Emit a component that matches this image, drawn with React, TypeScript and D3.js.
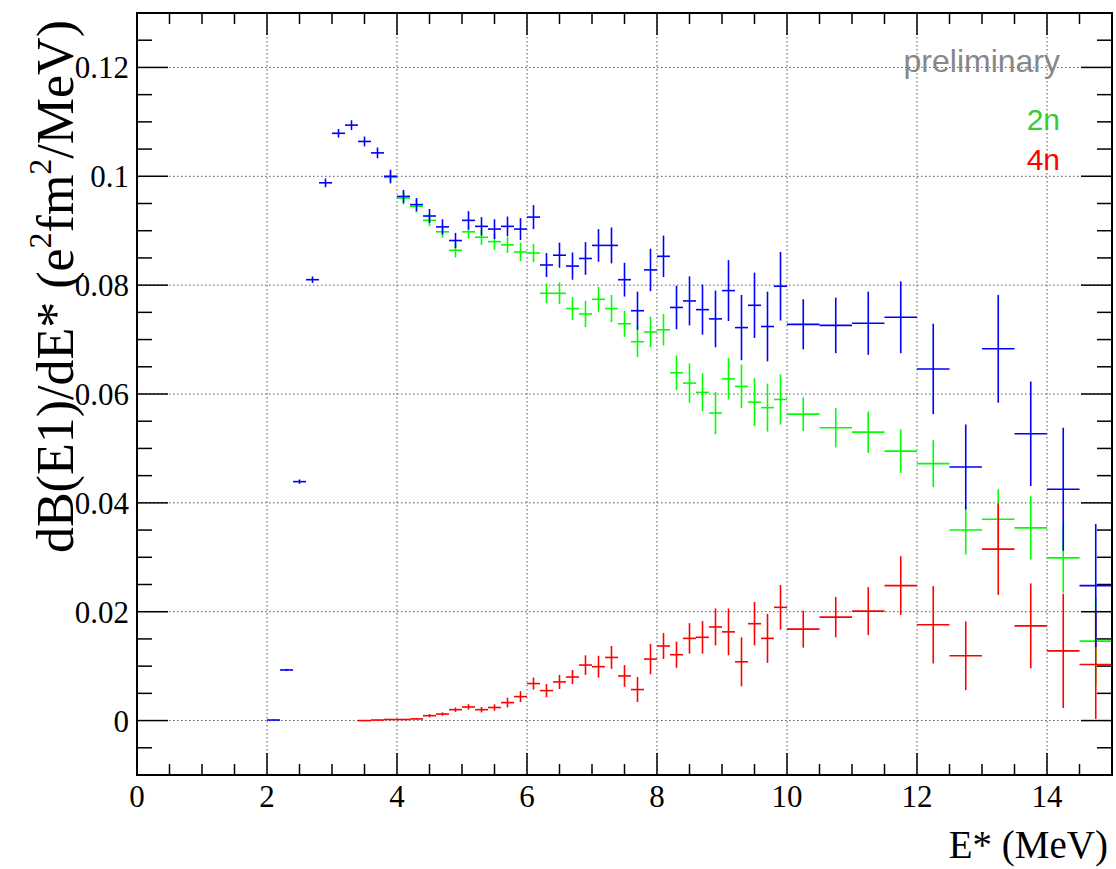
import React from 'react';
import * as d3 from 'd3';

const W = 1116;
const H = 869;
const FRAME = { left: 137, right: 1112, top: 13, bottom: 775 };

// axis definitions
const X_DOMAIN: [number, number] = [0, 15];
const Y_DOMAIN: [number, number] = [-0.01, 0.13];
const xMajorTicks = [0, 2, 4, 6, 8, 10, 12, 14];
const xTickLabels = ['0', '2', '4', '6', '8', '10', '12', '14'];
const yMajorTicks = [0, 0.02, 0.04, 0.06, 0.08, 0.1, 0.12];
const yTickLabels = ['0', '0.02', '0.04', '0.06', '0.08', '0.1', '0.12'];

// total (blue)
const totalE = [2.1, 2.3, 2.5, 2.7, 2.9, 3.1, 3.3, 3.5, 3.7, 3.9, 4.1, 4.3, 4.5, 4.7, 4.9, 5.1, 5.3, 5.5, 5.7, 5.9, 6.1, 6.3, 6.5, 6.7, 6.9, 7.1, 7.3, 7.5, 7.7, 7.9, 8.1, 8.3, 8.5, 8.7, 8.9, 9.1, 9.3, 9.5, 9.7, 9.9, 10.25, 10.75, 11.25, 11.75, 12.25, 12.75, 13.25, 13.75, 14.25, 14.75];
const totalV = [0.0001, 0.0093, 0.0439, 0.081, 0.0988, 0.1079, 0.1094, 0.1064, 0.1043, 0.1, 0.0963, 0.0948, 0.0927, 0.0907, 0.0882, 0.0919, 0.0908, 0.0903, 0.0908, 0.0903, 0.0925, 0.0837, 0.0855, 0.0835, 0.0849, 0.0873, 0.0873, 0.081, 0.0753, 0.0828, 0.0853, 0.0759, 0.0771, 0.0755, 0.0738, 0.079, 0.0722, 0.0763, 0.0724, 0.0798, 0.0728, 0.0726, 0.073, 0.0741, 0.0646, 0.0466, 0.0683, 0.0527, 0.0425, 0.0248];
const totalErr = [0.0001, 0.0002, 0.0004, 0.0006, 0.0008, 0.0008, 0.0009, 0.0009, 0.001, 0.0012, 0.0012, 0.0012, 0.0013, 0.0014, 0.0014, 0.0017, 0.0017, 0.0018, 0.0018, 0.002, 0.0022, 0.0022, 0.0023, 0.0025, 0.003, 0.003, 0.0033, 0.0031, 0.0035, 0.0039, 0.0038, 0.004, 0.0045, 0.0046, 0.0052, 0.0056, 0.006, 0.006, 0.0064, 0.0063, 0.0046, 0.0051, 0.0058, 0.0066, 0.0083, 0.0078, 0.0099, 0.0096, 0.0113, 0.0113];

// 2n (green)
const twoNE = [3.9, 4.1, 4.3, 4.5, 4.7, 4.9, 5.1, 5.3, 5.5, 5.7, 5.9, 6.1, 6.3, 6.5, 6.7, 6.9, 7.1, 7.3, 7.5, 7.7, 7.9, 8.1, 8.3, 8.5, 8.7, 8.9, 9.1, 9.3, 9.5, 9.7, 9.9, 10.25, 10.75, 11.25, 11.75, 12.25, 12.75, 13.25, 13.75, 14.25, 14.75];
const twoNV = [0.0998, 0.096, 0.0945, 0.0919, 0.0898, 0.0864, 0.0898, 0.0888, 0.088, 0.0874, 0.0861, 0.0859, 0.0785, 0.0785, 0.0757, 0.0747, 0.0774, 0.0757, 0.0729, 0.0696, 0.0714, 0.0718, 0.0639, 0.062, 0.0603, 0.0565, 0.0628, 0.0614, 0.0585, 0.0575, 0.059, 0.0563, 0.0538, 0.053, 0.0495, 0.0472, 0.035, 0.037, 0.0354, 0.0299, 0.0146];
const twoNErr = [0.0012, 0.0012, 0.0012, 0.0011, 0.0011, 0.0013, 0.0012, 0.0014, 0.0015, 0.0015, 0.0017, 0.0017, 0.0018, 0.002, 0.0021, 0.0024, 0.0023, 0.0025, 0.0024, 0.0028, 0.0028, 0.0029, 0.0032, 0.0036, 0.0035, 0.0039, 0.0038, 0.004, 0.0044, 0.0044, 0.0046, 0.0031, 0.0036, 0.0038, 0.004, 0.0043, 0.0045, 0.0055, 0.0058, 0.0064, 0.008];

// 4n (red)
const fourNE = [3.5, 3.7, 3.9, 4.1, 4.3, 4.5, 4.7, 4.9, 5.1, 5.3, 5.5, 5.7, 5.9, 6.1, 6.3, 6.5, 6.7, 6.9, 7.1, 7.3, 7.5, 7.7, 7.9, 8.1, 8.3, 8.5, 8.7, 8.9, 9.1, 9.3, 9.5, 9.7, 9.9, 10.25, 10.75, 11.25, 11.75, 12.25, 12.75, 13.25, 13.75, 14.25, 14.75];
const fourNV = [0.0, 0.0001, 0.0002, 0.0002, 0.0003, 0.0009, 0.0012, 0.002, 0.0025, 0.002, 0.0024, 0.0033, 0.0044, 0.0068, 0.0055, 0.0071, 0.008, 0.0102, 0.0099, 0.0116, 0.0082, 0.0057, 0.0113, 0.0137, 0.0121, 0.0151, 0.0153, 0.0172, 0.0163, 0.0108, 0.0178, 0.0151, 0.0208, 0.0168, 0.019, 0.0201, 0.0248, 0.0176, 0.0119, 0.0315, 0.0174, 0.0128, 0.0103];
const fourNErr = [0.0, 0.0001, 0.0001, 0.0001, 0.0001, 0.0003, 0.0003, 0.0004, 0.0005, 0.0005, 0.0006, 0.0009, 0.001, 0.0011, 0.0012, 0.0013, 0.0013, 0.0018, 0.002, 0.0021, 0.002, 0.0023, 0.0028, 0.0024, 0.0024, 0.0028, 0.003, 0.0034, 0.0043, 0.0045, 0.004, 0.0045, 0.0041, 0.0034, 0.0037, 0.0044, 0.0054, 0.0071, 0.0063, 0.0084, 0.0078, 0.0105, 0.01];

const series = [
  { name: '2n', E: twoNE, V: twoNV, err: twoNErr, color: '#00ff00' },
  { name: '4n', E: fourNE, V: fourNV, err: fourNErr, color: '#ff0000' },
  { name: 'total', E: totalE, V: totalV, err: totalErr, color: '#0000ff' },
];

const binHalfWidth = (e: number) => (e < 10 ? 0.1 : 0.25);

export default function App() {
  const x = d3.scaleLinear().domain(X_DOMAIN).range([FRAME.left, FRAME.right]);
  const y = d3.scaleLinear().domain(Y_DOMAIN).range([FRAME.bottom, FRAME.top]);

  const xMinor = d3.range(0, 15.001, 0.5);
  const yMinor = d3.range(-0.01, 0.1301, 0.005);

  const serif = "'Liberation Serif', 'Times New Roman', serif";
  const sans = "'Liberation Sans', Arial, sans-serif";

  return (
    <svg width={W} height={H} style={{ position: 'absolute', left: 0, top: 0, background: '#fff' }}>
      <defs>
        <clipPath id="plotclip">
          <rect x={FRAME.left} y={FRAME.top} width={FRAME.right - FRAME.left} height={FRAME.bottom - FRAME.top} />
        </clipPath>
      </defs>
      <rect x={0} y={0} width={W} height={H} fill="#fff" />

      {/* grid */}
      <g stroke="#555" strokeWidth={1} strokeDasharray="1.5,2.5">
        {xMajorTicks.filter((t) => t > 0).map((t) => (
          <line key={'gx' + t} x1={x(t)} x2={x(t)} y1={FRAME.top} y2={FRAME.bottom} />
        ))}
        {yMajorTicks.map((t) => (
          <line key={'gy' + t} x1={FRAME.left} x2={FRAME.right} y1={y(t)} y2={y(t)} />
        ))}
      </g>

      {/* ticks */}
      <g stroke="#000" strokeWidth={1.5}>
        {xMinor.map((t) => {
          const major = Math.abs(t / 2 - Math.round(t / 2)) < 1e-6;
          const len = major ? 22 : 11;
          return (
            <g key={'tx' + t}>
              <line x1={x(t)} x2={x(t)} y1={FRAME.bottom} y2={FRAME.bottom - len} />
              <line x1={x(t)} x2={x(t)} y1={FRAME.top} y2={FRAME.top + len} />
            </g>
          );
        })}
        {yMinor.map((t) => {
          const major = Math.abs(t / 0.02 - Math.round(t / 0.02)) < 1e-6;
          const len = major ? 31 : 15;
          return (
            <g key={'ty' + t.toFixed(3)}>
              <line x1={FRAME.left} x2={FRAME.left + len} y1={y(t)} y2={y(t)} />
              <line x1={FRAME.right} x2={FRAME.right - len} y1={y(t)} y2={y(t)} />
            </g>
          );
        })}
      </g>

      {/* data */}
      <g clipPath="url(#plotclip)">
        {series.map((s) => (
          <g key={s.name} stroke={s.color} strokeWidth={1.6}>
            {s.E.map((e, i) => {
              const hw = binHalfWidth(e);
              return (
                <g key={i}>
                  <line x1={x(e - hw)} x2={x(e + hw)} y1={y(s.V[i])} y2={y(s.V[i])} />
                  {s.err[i] > 0 && (
                    <line x1={x(e)} x2={x(e)} y1={y(s.V[i] - s.err[i])} y2={y(s.V[i] + s.err[i])} />
                  )}
                </g>
              );
            })}
          </g>
        ))}
      </g>

      {/* frame */}
      <rect x={FRAME.left} y={FRAME.top} width={FRAME.right - FRAME.left} height={FRAME.bottom - FRAME.top} fill="none" stroke="#000" strokeWidth={2} />

      {/* tick labels */}
      <g fontFamily={serif} fontSize={31} fill="#000">
        {xMajorTicks.map((t, i) => (
          <text key={'lx' + t} x={x(t)} y={807} textAnchor="middle">{xTickLabels[i]}</text>
        ))}
        {yMajorTicks.map((t, i) => (
          <text key={'ly' + t} x={129} y={y(t) + 11} textAnchor="end">{yTickLabels[i]}</text>
        ))}
      </g>

      {/* axis titles */}
      <text x={1108} y={858} textAnchor="end" fontFamily={serif} fontSize={39} fill="#000">E* (MeV)</text>
      <text transform="translate(73,20) rotate(-90)" textAnchor="end" fontFamily={serif} fontSize={52} fill="#000">
        dB(E1)/dE* (e<tspan fontSize={32} dy={-22}>2</tspan><tspan dy={22}>fm</tspan><tspan fontSize={32} dy={-22}>2</tspan><tspan dy={22}>/MeV)</tspan>
      </text>

      {/* annotations */}
      <text x={1060} y={72} textAnchor="end" fontFamily={sans} fontSize={32} fill="#888">preliminary</text>
      <text x={1060} y={130} textAnchor="end" fontFamily={sans} fontSize={30} fill="#33cc33">2n</text>
      <text x={1060} y={170} textAnchor="end" fontFamily={sans} fontSize={30} fill="#ff0000">4n</text>
    </svg>
  );
}
